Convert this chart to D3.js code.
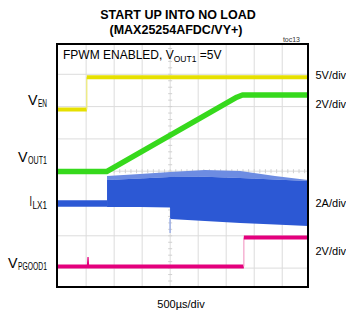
<!DOCTYPE html>
<html>
<head>
<meta charset="utf-8">
<script src="https://cdn.jsdelivr.net/npm/d3@7"></script>
<style>
  body { margin: 0; background: #fff; }
  svg { display: block; font-family: "Liberation Sans", Arial, sans-serif; }
</style>
</head>
<body>
<div id="chart"></div>
<script>
// time axis in µs (500µs/div), vertical grid in divisions
const gridTimes = [0, 500, 1000, 1500, 2000, 2500, 3000, 3500];
const gridDivs = [0, 1, 2, 3, 4, 5, 6];

// V_EN, volts
const venTime = [-520, 12, 12, 3960];
const venVolts = [0, 0, 5, 5];

// V_OUT1, volts
const voutTime = [-520, 365, 2690, 2790, 3960];
const voutVolts = [0, 0, 4.6, 4.74, 4.74];

// I_LX1, amps
const ilxTime = [-520, 373];
const ilxAmps = [0, 0];
const ilxEnvTime = [373, 960, 1498, 1498, 2120, 2750, 3370, 3960];
const ilxPeakTop = [1.70, 1.82, 1.95, 1.95, 2.07, 2.01, 1.70, 1.46];
const ilxCoreTop = [1.46, 1.55, 1.64, 1.64, 1.66, 1.58, 1.48, 1.39];
const ilxCoreBottom = [-0.22, -0.22, -0.25, -0.96, -1.08, -1.21, -1.30, -1.39];
const ilxSpikeTime = [1498, 1498];
const ilxSpikeAmps = [-0.9, -1.83];

// V_PGOOD1, volts
const pgoodTime = [-520, 2815, 2815, 3960];
const pgoodVolts = [0, 0, 1.8, 1.8];
const pgoodGlitchTime = [22, 34, 44];
const pgoodGlitchVolts = [0, 0.59, 0];

const W = 346, H = 317;
const svg = d3.select('#chart').append('svg')
    .attr('width', W)
    .attr('height', H);

const frame = { left: 57, top: 44, right: 308, bottom: 287 };

const x = d3.scaleLinear().domain([-520, 3960]).range([frame.left, frame.right]);
const yDiv = d3.scaleLinear().domain([0, 6]).range([74.3, 268.1]);

// each channel: ground position in divisions and units per division
function channelScale(groundDiv, perDiv) {
    return v => yDiv(groundDiv - v / perDiv);
}
const yVen = channelScale(1.09, 5);
const yVout = channelScale(3.01, 2);
const yIlx = channelScale(4.0, 2);
const yPgood = channelScale(5.95, 2);

const plot = svg.append('g');

// grid
plot.selectAll('.vgrid')
    .data(gridTimes)
    .enter().append('line')
    .attr('x1', d => x(d)).attr('x2', d => x(d))
    .attr('y1', frame.top).attr('y2', frame.bottom)
    .style('stroke', '#dcdcdc')
    .style('stroke-width', 1);

plot.selectAll('.hgrid')
    .data(gridDivs)
    .enter().append('line')
    .attr('x1', frame.left).attr('x2', frame.right)
    .attr('y1', d => yDiv(d)).attr('y2', d => yDiv(d))
    .style('stroke', '#dcdcdc')
    .style('stroke-width', 1);

// minor ticks on the centre lines
const minorT = d3.range(-500, 3960, 100);
plot.selectAll('.mx')
    .data(minorT)
    .enter().append('line')
    .attr('x1', d => x(d)).attr('x2', d => x(d))
    .attr('y1', yDiv(3) - 2).attr('y2', yDiv(3) + 2)
    .style('stroke', '#d0d0d0');
const minorD = d3.range(-0.8, 6.6, 0.2);
plot.selectAll('.my')
    .data(minorD)
    .enter().append('line')
    .attr('x1', x(1500) - 2).attr('x2', x(1500) + 2)
    .attr('y1', d => yDiv(d)).attr('y2', d => yDiv(d))
    .style('stroke', '#d0d0d0');

// draws a trace: thick for level/ramp parts, thin for vertical edges
function drawTrace(times, vals, y, color, width, edgeColor) {
    const line = d3.line();
    let run = [[x(times[0]), y(vals[0])]];
    for (let i = 1; i < times.length; i++) {
        const p = [x(times[i]), y(vals[i])];
        if (times[i] === times[i - 1]) {
            if (run.length > 1) {
                plot.append('path').attr('d', line(run))
                    .style('fill', 'none').style('stroke', color)
                    .style('stroke-width', width).style('stroke-linejoin', 'round');
            }
            plot.append('path').attr('d', line([run[run.length - 1], p]))
                .style('fill', 'none').style('stroke', edgeColor)
                .style('stroke-width', 1.2);
            run = [p];
        } else {
            run.push(p);
        }
    }
    if (run.length > 1) {
        plot.append('path').attr('d', line(run))
            .style('fill', 'none').style('stroke', color)
            .style('stroke-width', width).style('stroke-linejoin', 'round');
    }
}

drawTrace(venTime, venVolts, yVen, '#e6e000', 4, '#eeea70');
drawTrace(voutTime, voutVolts, yVout, '#36d91c', 5.5, '#36d91c');

// inductor current
const ilxColor = '#2c58d4';
drawTrace(ilxTime, ilxAmps, yIlx, ilxColor, 6.5, ilxColor);
const envIdx = d3.range(ilxEnvTime.length);
plot.append('path')
    .attr('d', d3.area()
        .x(i => x(ilxEnvTime[i]))
        .y0(i => yIlx(ilxCoreTop[i]))
        .y1(i => yIlx(ilxPeakTop[i]))(envIdx))
    .style('fill', '#6d8ce2');
plot.append('path')
    .attr('d', d3.area()
        .x(i => x(ilxEnvTime[i]))
        .y0(i => yIlx(ilxCoreBottom[i]))
        .y1(i => yIlx(ilxCoreTop[i]))(envIdx))
    .style('fill', ilxColor);
plot.append('path')
    .attr('d', d3.line()(ilxSpikeTime.map((t, i) => [x(t), yIlx(ilxSpikeAmps[i])])))
    .style('stroke', '#8aa2e6')
    .style('stroke-width', 1.2);

drawTrace(pgoodTime, pgoodVolts, yPgood, '#e4007d', 4, '#f3a0c8');
plot.append('path')
    .attr('d', d3.line()(pgoodGlitchTime.map((t, i) => [x(t), yPgood(pgoodGlitchVolts[i])])))
    .style('fill', 'none')
    .style('stroke', '#e4007d')
    .style('stroke-width', 1.2);

// frame
svg.append('rect')
    .attr('x', frame.left).attr('y', frame.top)
    .attr('width', frame.right - frame.left)
    .attr('height', frame.bottom - frame.top)
    .style('fill', 'none')
    .style('stroke', '#000')
    .style('stroke-width', 2);

// titles
svg.append('text')
    .attr('x', 178).attr('y', 19)
    .attr('text-anchor', 'middle')
    .style('font-weight', 'bold').style('font-size', '12.5px')
    .text('START UP INTO NO LOAD');
svg.append('text')
    .attr('x', 176).attr('y', 33.5)
    .attr('text-anchor', 'middle')
    .style('font-weight', 'bold').style('font-size', '12.5px')
    .text('(MAX25254AFDC/VY+)');
svg.append('text')
    .attr('x', 300).attr('y', 41.5)
    .attr('text-anchor', 'end')
    .style('font-size', '7px').style('fill', '#333')
    .text('toc13');

// condition note
const note = svg.append('text')
    .attr('x', 63).attr('y', 58.5)
    .style('font-size', '12px');
note.append('tspan').text('FPWM ENABLED, V');
note.append('tspan').attr('dy', 3).style('font-size', '8.5px').text('OUT1');
note.append('tspan').attr('dy', -3).text(' =5V');

// channel labels (condensed lettering, squeezed to the reference widths)
function label(main, sub, x0, x1, y) {
    svg.append('text')
        .attr('x', x0).attr('y', y)
        .attr('textLength', x1 - x0 - 0.5)
        .attr('lengthAdjust', 'spacingAndGlyphs')
        .style('font-size', '14px')
        .text(main);
    svg.append('text')
        .attr('x', x1).attr('y', y + 2.5)
        .attr('textLength', 47 - x1)
        .attr('lengthAdjust', 'spacingAndGlyphs')
        .style('font-size', '10px')
        .text(sub);
}
label('V', 'EN', 28, 38, 104.5);
label('V', 'OUT1', 18, 28, 161.5);
label('I', 'LX1', 29.5, 32.5, 206);
label('V', 'PGOOD1', 8, 18, 267.5);

const scaleLabels = [['5V/div', 79], ['2V/div', 107.5], ['2A/div', 206.5], ['2V/div', 255]];
svg.selectAll('.sl')
    .data(scaleLabels)
    .enter().append('text')
    .attr('x', 315.5)
    .attr('y', d => d[1])
    .style('font-size', '11px')
    .text(d => d[0]);

svg.append('text')
    .attr('x', 181).attr('y', 308)
    .attr('text-anchor', 'middle')
    .style('font-size', '11px')
    .text('500µs/div');
</script>
</body>
</html>
